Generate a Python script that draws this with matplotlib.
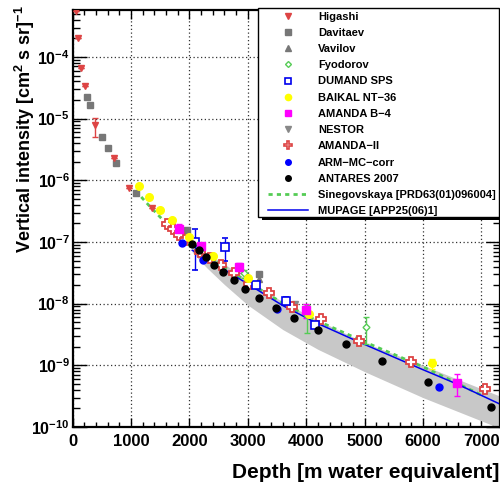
import numpy as np
import matplotlib
matplotlib.use('Agg')
import matplotlib.pyplot as plt
from matplotlib.lines import Line2D
from matplotlib.patches import Rectangle
from matplotlib.ticker import LogLocator, FuncFormatter, MultipleLocator, NullFormatter, FixedLocator

plt.rcParams['font.family'] = ['Liberation Sans', 'DejaVu Sans']
plt.rcParams['font.weight'] = 'bold'
plt.rcParams['mathtext.fontset'] = 'custom'
plt.rcParams['mathtext.rm'] = 'Liberation Sans:bold'
plt.rcParams['mathtext.bf'] = 'Liberation Sans:bold'
plt.rcParams['mathtext.default'] = 'bf'

# ---------------- data ----------------
higashi_depth = [58, 87, 144, 218, 384, 714, 960, 1365]
higashi_flux = [5.56e-4, 2.05e-4, 6.68e-5, 3.40e-5, 7.83e-6, 2.31e-6, 7.53e-7, 3.56e-7]
higashi_lo = [0, 0, 0, 0, 2.76e-6, 0, 0, 0]
higashi_hi = [0, 0, 0, 0, 2.57e-6, 0, 0, 0]

davitaev_depth = [252, 298, 503, 601, 748, 1086, 1960, 3192]
davitaev_flux = [2.26e-5, 1.64e-5, 5.07e-6, 3.28e-6, 1.91e-6, 6.24e-7, 1.55e-7, 3.07e-8]

vavilov_depth = [3192]
vavilov_flux = [2.55e-8]

fyodorov_depth = [2930, 4020, 5024]
fyodorov_flux = [3.14e-8, 6.5e-9, 4.18e-9]
fyodorov_lo = [0.53e-8, 3.1e-9, 1.99e-9]
fyodorov_hi = [0.42e-8, 3.0e-9, 1.89e-9]

dumand_depth = [2099, 2613, 3149, 3649, 4151]
dumand_flux = [1.0e-7, 8.2e-8, 2.01e-8, 1.11e-8, 4.54e-9]
dumand_lo = [6.46e-8, 3.21e-8, 0, 1.7e-9, 0]
dumand_hi = [6.5e-8, 3.2e-8, 0, 1.7e-9, 0]

baikal_depth = [1139, 1308, 1502, 1697, 1993, 2409, 3003, 4048, 6158]
baikal_flux = [8.0e-7, 5.4e-7, 3.27e-7, 2.25e-7, 1.2e-7, 6.0e-8, 2.6e-8, 6.9e-9, 1.09e-9]
baikal_lo = [0, 0, 0, 0, 0, 0, 0, 0, 0.22e-9]
baikal_hi = [0, 0, 0, 0, 0, 0, 0, 0, 0.20e-9]

amandab4_depth = [1817, 2199, 2849, 4005, 6591]
amandab4_flux = [1.64e-7, 8.6e-8, 3.86e-8, 7.8e-9, 5.16e-10]
amandab4_lo = [0.33e-7, 0.8e-8, 0.7e-8, 1.9e-9, 2.0e-10]
amandab4_hi = [0.33e-7, 0.8e-8, 0.7e-8, 1.9e-9, 2.0e-10]

nestor_depth = [3810]
nestor_flux = [1.0e-8]

amanda2_depth = [1625, 1724, 1817, 1933, 2190, 2353, 2541, 2769, 3021, 3363,
                 3757, 4248, 4904, 5795, 7062]
amanda2_flux = [1.94e-7, 1.61e-7, 1.32e-7, 1.07e-7, 6.8e-8, 5.44e-8, 4.27e-8,
                3.10e-8, 2.11e-8, 1.51e-8, 8.9e-9, 5.73e-9, 2.45e-9, 1.15e-9, 4.19e-10]

arm_depth = [1878, 2238, 3500, 6274]
arm_flux = [9.5e-8, 5.19e-8, 8.3e-9, 4.45e-10]

antares_depth = [2050, 2164, 2284, 2421, 2581, 2758, 2958, 3192, 3477, 3797,
                 4196, 4687, 5298, 6091, 7159]
antares_flux = [9.2e-8, 7.43e-8, 5.65e-8, 4.30e-8, 3.22e-8, 2.39e-8, 1.75e-8,
                1.25e-8, 8.6e-9, 5.86e-9, 3.74e-9, 2.22e-9, 1.16e-9, 5.44e-10, 2.11e-10]

sineg_depth = [1080, 1300, 1580, 2000, 2500, 3000, 3600, 4150, 5000, 6000, 7000]
sineg_flux = [6.76e-7, 3.98e-7, 2.11e-7, 8.9e-8, 4.47e-8, 2.24e-8, 1.02e-8,
              5.5e-9, 2.4e-9, 9.5e-10, 3.3e-10]

mupage_depth = [2050, 2500, 3000, 3600, 4150, 4900, 6000, 6600, 7320]
mupage_flux = [7.33e-8, 4.07e-8, 2.09e-8, 9.3e-9, 5.0e-9, 2.4e-9, 8.5e-10, 4.9e-10, 2.35e-10]

band_depth = [2050, 2300, 2600, 3000, 3600, 4200, 5000, 6000, 7400]
band_upper = [9.3e-8, 6.6e-8, 4.4e-8, 2.4e-8, 1.07e-8, 5.4e-9, 2.34e-9, 1.0e-9, 2.95e-10]
band_lower = [6.8e-8, 3.8e-8, 2.04e-8, 9.5e-9, 3.8e-9, 1.82e-9, 7.9e-10, 3.0e-10, 8.9e-11]

x_ticks = [0, 1000, 2000, 3000, 4000, 5000, 6000, 7000]
labels = ['Higashi', 'Davitaev', 'Vavilov', 'Fyodorov', 'DUMAND SPS', 'BAIKAL NT\u221236',
          'AMANDA B\u22124', 'NESTOR', 'AMANDA\u2212II', 'ARM\u2212MC\u2212corr', 'ANTARES 2007',
          'Sinegovskaya [PRD63(01)096004]', 'MUPAGE [APP25(06)1]']

# ---------------- figure ----------------
W, H = 500, 487
fig = plt.figure(figsize=(W / 100, H / 100), dpi=100)
ax = fig.add_axes([72.6 / W, 1 - 427 / H, (500 - 72.6) / W, (427 - 10) / H])
ax.set_yscale('log')
ax.set_xlim(0, 7320)
ax.set_ylim(1e-10, 5.77e-4)

c_red = '#dd4444'
c_gray = '#777777'
c_green = '#55cc55'
c_blue = '#0000ee'
c_yel = '#ffff00'
c_mag = '#ff00ff'

ax.fill_between(band_depth, band_lower, band_upper, color='#c8c8c8', lw=0, zorder=1)
ax.plot(sineg_depth, sineg_flux, color=c_green, lw=2, ls=(0, (1.5, 1.5)), zorder=2)
ax.plot(mupage_depth, mupage_flux, color=c_blue, lw=1.1, zorder=2)

ekw = dict(elinewidth=1, capsize=2, capthick=1, ls='none', zorder=3)
ax.errorbar(higashi_depth, higashi_flux, yerr=[higashi_lo, higashi_hi], fmt='v',
            color=c_red, ms=5, **ekw)
ax.plot(davitaev_depth, davitaev_flux, 's', color=c_gray, ms=5, zorder=3)
ax.plot(vavilov_depth, vavilov_flux, '^', color=c_gray, ms=5, zorder=3)
ax.errorbar(fyodorov_depth, fyodorov_flux, yerr=[fyodorov_lo, fyodorov_hi], fmt='D',
            color=c_green, mfc='white', mec=c_green, ms=3.5, mew=1, **ekw)
ax.errorbar(dumand_depth, dumand_flux, yerr=[dumand_lo, dumand_hi], fmt='s',
            color=c_blue, mfc='white', mec=c_blue, ms=6, mew=1.2, **ekw)
ax.errorbar(baikal_depth, baikal_flux, yerr=[baikal_lo, baikal_hi], fmt='o',
            color=c_yel, ms=5.5, **ekw)
ax.errorbar(amandab4_depth, amandab4_flux, yerr=[amandab4_lo, amandab4_hi], fmt='s',
            color=c_mag, ms=5.5, **ekw)
ax.plot(nestor_depth, nestor_flux, 'v', color='#888888', ms=5, zorder=3)
ax.plot(amanda2_depth, amanda2_flux, 'P', color=c_red, mfc='white', mec=c_red,
        ms=7, mew=1.3, zorder=3)
ax.plot(arm_depth, arm_flux, 'o', color='#0000ff', ms=5, zorder=3)
ax.plot(antares_depth, antares_flux, 'o', color='black', ms=5, zorder=4)

# axes styling
ax.set_axisbelow(True)
ax.grid(True, which='major', ls=(0, (1, 2)), color='#333333', lw=0.9)
ax.xaxis.set_major_locator(FixedLocator(x_ticks))
ax.xaxis.set_minor_locator(MultipleLocator(200))
ax.yaxis.set_major_locator(LogLocator(base=10, numticks=20))
ax.yaxis.set_minor_locator(LogLocator(base=10, subs=np.arange(2, 10), numticks=20))
ax.yaxis.set_minor_formatter(NullFormatter())
ax.yaxis.set_major_formatter(FuncFormatter(lambda v, p: r'$\mathbf{10^{%d}}$' % int(round(np.log10(v)))))
ax.tick_params(axis='both', which='both', direction='in', top=True, right=True, width=1)
ax.tick_params(axis='x', which='major', length=6.5, pad=5, labelsize=12)
ax.tick_params(axis='x', which='minor', length=3.5)
ax.tick_params(axis='y', which='major', length=10, pad=2, labelsize=11.5)
ax.tick_params(axis='y', which='minor', length=5)
ax.xaxis.get_offset_text().set_visible(False)
ax.yaxis.get_offset_text().set_visible(False)
for s in ax.spines.values():
    s.set_linewidth(1.6)

fig.text(499 / W, 1 - 473 / H, 'Depth [m water equivalent]', ha='right', va='center',
         fontsize=15, fontweight='bold')
fig.text(25 / W, 1 - 5 / H, r'Vertical intensity [cm$^{2}$ s sr]$^{-1}$', rotation=90,
         ha='center', va='top', fontsize=13, fontweight='bold')

# legend frame (ROOT style box with shadow)
fig.patches.append(Rectangle((262 / W, 1 - 220 / H), 240 / W, 209 / H,
                             transform=fig.transFigure, facecolor='black',
                             edgecolor='none', zorder=9))
fig.patches.append(Rectangle((258 / W, 1 - 217 / H), 241 / W, 209 / H,
                             transform=fig.transFigure, facecolor='white',
                             edgecolor='black', lw=1, zorder=9.5))

handles = [
    Line2D([], [], ls='none', marker='v', color=c_red, ms=4),
    Line2D([], [], ls='none', marker='s', color=c_gray, ms=4),
    Line2D([], [], ls='none', marker='^', color=c_gray, ms=4),
    Line2D([], [], ls='none', marker='D', mfc='white', mec=c_green, ms=3, mew=1),
    Line2D([], [], ls='none', marker='s', mfc='white', mec=c_blue, ms=5, mew=1.2),
    Line2D([], [], ls='none', marker='o', color=c_yel, ms=4.5),
    Line2D([], [], ls='none', marker='s', color=c_mag, ms=4.5),
    Line2D([], [], ls='none', marker='v', color='#888888', ms=4),
    Line2D([], [], ls='none', marker='P', mfc='white', mec=c_red, ms=5.5, mew=1.2),
    Line2D([], [], ls='none', marker='o', color='#0000ff', ms=4),
    Line2D([], [], ls='none', marker='o', color='black', ms=4),
    Line2D([], [], color=c_green, lw=2, ls=(0, (1.5, 1.5))),
    Line2D([], [], color=c_blue, lw=1.1),
]
leg = fig.legend(handles, labels, loc='upper left', bbox_to_anchor=(268 / W, 1 - 11.5 / H),
                 bbox_transform=fig.transFigure, frameon=False,
                 prop={'size': 8.0, 'weight': 'bold'}, handlelength=3.6,
                 handletextpad=0.88, borderpad=0, labelspacing=0.56, borderaxespad=0)
leg.set_zorder(10)

fig.savefig('out.png', dpi=100)
